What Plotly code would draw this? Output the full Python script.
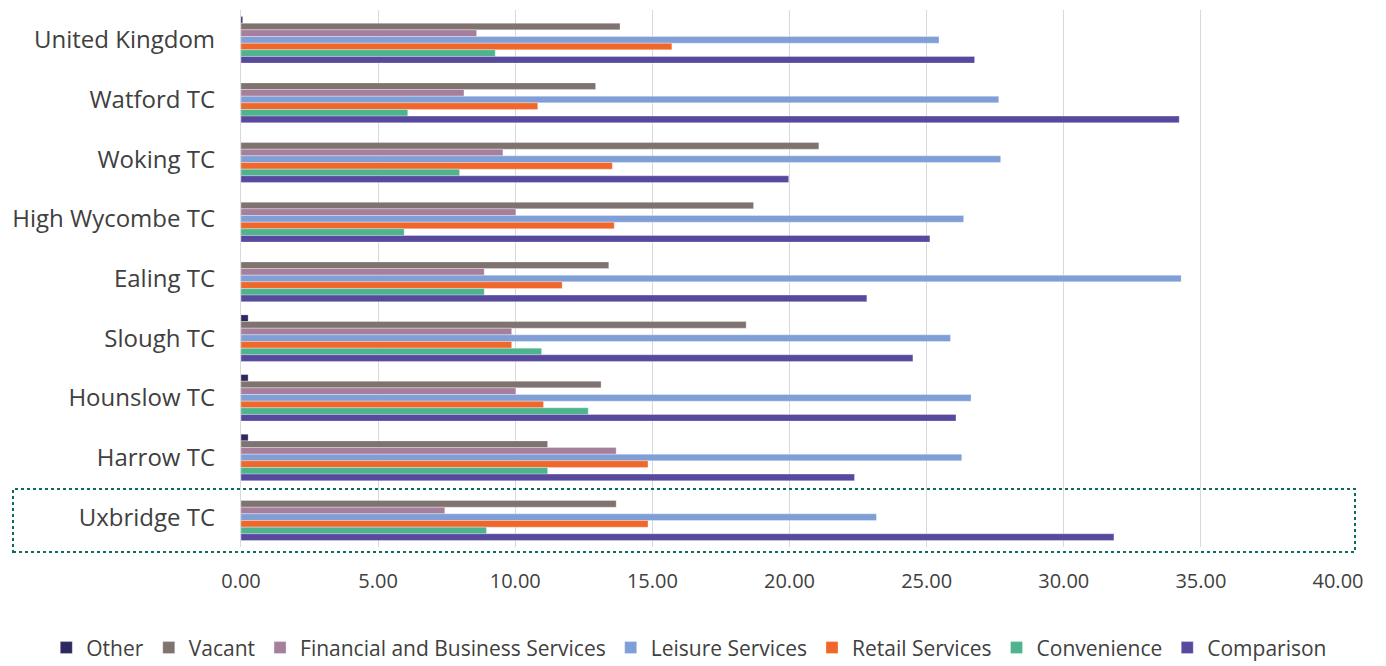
import plotly.graph_objects as go

categories = ["United Kingdom", "Watford TC", "Woking TC", "High Wycombe TC", "Ealing TC",
              "Slough TC", "Hounslow TC", "Harrow TC", "Uxbridge TC"]

other = [0.06, 0, 0, 0, 0, 0.26, 0.26, 0.26, 0]
vacant = [13.82, 12.93, 21.07, 18.69, 13.41, 18.42, 13.13, 11.18, 13.68]
financial = [8.59, 8.13, 9.55, 10.02, 8.87, 9.87, 10.02, 13.68, 7.43]
leisure = [25.45, 27.63, 27.70, 26.35, 34.28, 25.87, 26.62, 26.28, 23.17]
retail = [15.71, 10.82, 13.54, 13.61, 11.71, 9.87, 11.03, 14.84, 14.84]
convenience = [9.27, 6.08, 7.97, 5.95, 8.87, 10.96, 12.66, 11.18, 8.95]
comparison = [26.75, 34.21, 19.97, 25.12, 22.82, 24.50, 26.07, 22.37, 31.83]

tick_vals = [0, 5, 10, 15, 20, 25, 30, 35, 40]

series = [
    ("Other", other, "#2e2860"),
    ("Vacant", vacant, "#7f7370"),
    ("Financial and Business Services", financial, "#a67f9c"),
    ("Leisure Services", leisure, "#7f9fd6"),
    ("Retail Services", retail, "#f0672b"),
    ("Convenience", convenience, "#4db48e"),
    ("Comparison", comparison, "#574a9e"),
]

fig = go.Figure()
for name, vals, color in series:
    fig.add_trace(go.Bar(
        y=categories, x=vals, name=name, orientation="h",
        marker=dict(color=color, line=dict(color="rgba(255,255,255,0.6)", width=0.5)),
    ))

fig.update_layout(
    width=1386, height=666,
    barmode="group", bargap=0.22, bargroupgap=0,
    plot_bgcolor="white", paper_bgcolor="white",
    margin=dict(l=241, r=48, t=10, b=119, autoexpand=False),
    font=dict(family="Open Sans", color="#404040"),
    xaxis=dict(range=[0, 40], tickvals=tick_vals, tickformat=".2f", automargin=False,
               showgrid=True, gridcolor="#d9d9d9", gridwidth=1.3,
               zeroline=False, showline=False,
               tickfont=dict(size=20, color="#404040"),
               ticks="outside", ticklen=16, tickcolor="rgba(0,0,0,0)"),
    yaxis=dict(autorange="reversed", showgrid=False, automargin=False,
               showline=True, linecolor="#d9d9d9", linewidth=1.3,
               tickfont=dict(size=24, color="#404040"),
               ticks="outside", ticklen=20, tickcolor="rgba(0,0,0,0)"),
    legend=dict(orientation="h", x=-0.1775, xanchor="left", y=-0.188, yanchor="middle",
                font=dict(size=21, color="#404040"), itemwidth=30, tracegroupgap=0),
    shapes=[dict(type="rect", xref="paper", yref="paper",
                 x0=(13 - 241) / 1097, x1=(1355 - 241) / 1097,
                 y0=(547 - 552) / 537, y1=(547 - 489) / 537,
                 line=dict(color="#0e6b5e", width=2, dash="dot"))],
)

fig.write_html("out.html", config={"displayModeBar": False},
               post_script="document.body.style.margin='0px';")
